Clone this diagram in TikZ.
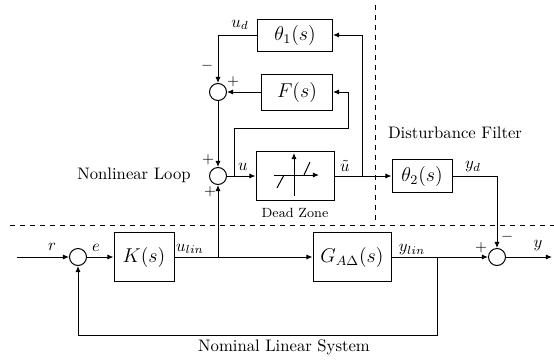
\documentclass[tikz,border=0pt]{standalone}
\usepackage{amsmath}
\usepackage{amssymb}
\usetikzlibrary{arrows.meta,positioning,calc}

\begin{document}
\begin{tikzpicture}[x=0.6pt,y=-0.6pt,
    blk/.style={draw, semithick, rectangle, inner sep=0pt, font=\large},
    sumnode/.style={draw, semithick, circle, minimum size=10.2pt, inner sep=0pt},
    sgn/.style={font=\small, inner sep=0pt},
    sig/.style={inner sep=0pt},
    arr/.style={semithick, -{Latex[length=1.3mm,width=1.1mm]}}]
    \useasboundingbox (0,0) rectangle (554,363);

    % region borders
    \draw[dashed] (10,225) -- (554,225);
    \draw[dashed] (375,5) -- (375,225);

    % nominal linear system
    \coordinate (rin) at (17,257);
    \node[sumnode] (s0) at (78,257) {};
    \node[blk, minimum width=36pt, minimum height=29.4pt] (K) at (144,257) {$K(s)$};
    \node[blk, minimum width=46.8pt, minimum height=29.4pt] (G) at (352,257) {$G_{A\Delta}(s)$};
    \node[sumnode] (s3) at (497,257) {};
    \coordinate (yout) at (552,257);

    % nonlinear loop
    \node[sumnode] (s1) at (218,92) {};
    \node[sumnode] (s2) at (218,176) {};
    \node[blk, minimum width=45pt, minimum height=19.2pt] (th1) at (295,35) {$\theta_1(s)$};
    \node[blk, minimum width=42.6pt, minimum height=21.6pt] (F) at (297,92) {$F(s)$};
    \node[blk, minimum width=46.8pt, minimum height=29.4pt] (dz) at (295,176) {};

    % disturbance filter
    \node[blk, minimum width=36pt, minimum height=19.8pt] (th2) at (422,176) {$\theta_2(s)$};

    % dead zone symbol
    \draw[arr] ($(dz.center)+(-1,20)$) -- ($(dz.center)+(-1,-23)$);
    \draw[arr] ($(dz.center)+(-21,-1)$) -- ($(dz.center)+(24,-1)$);
    \draw[semithick] ($(dz.center)+(-18,12)$) -- ($(dz.center)+(-11,-1)$);
    \draw[semithick] ($(dz.center)+(9,-1)$) -- ($(dz.center)+(15,-14)$);

    % branch points
    \coordinate (j1) at (218,257);
    \coordinate (j2) at (437,257);
    \coordinate (fb0) at (437,335);
    \coordinate (j3) at (234,176);
    \coordinate (j4) at (362,176);
    \coordinate (fbk) at (348,128);

    % connectors, linear part
    \draw[arr] (rin) -- (s0.west);
    \draw[arr] (s0.east) -- (K.west);
    \draw[arr] (K.east) -- (G.west);
    \draw[arr] (G.east) -- (s3.west);
    \draw[arr] (s3.east) -- (yout);
    \draw[arr] (j2) -- (fb0) -| (s0.south);

    % connectors, nonlinear part
    \draw[arr] (j1) -- (s2.south);
    \draw[arr] (s2.east) -- (dz.west);
    \draw[arr] (dz.east) -- (th2.west);
    \draw[arr] (th2.east) -| (s3.north);
    \draw[arr] (j4) |- (th1.east);
    \draw[arr] (j3) |- (fbk) |- (F.east);
    \draw[arr] (F.west) -- (s1.east);
    \draw[arr] (th1.west) -| (s1.north);
    \draw[arr] (s1.south) -- (s2.north);

    % signal labels
    \node[sig] (lr) at (52,247) {$r$};
    \node[sig] (le) at (96,248) {$e$};
    \node[sig] (lulin) at (190,249) {$u_{lin}$};
    \node[sig] (lylin) at (412,250) {$y_{lin}$};
    \node[sig] (ly) at (538,246) {$y$};
    \node[sig] (lu) at (243,167) {$u$};
    \node[sig] (lut) at (345,166) {$\tilde{u}$};
    \node[sig] (lyd) at (473,167) {$y_d$};
    \node[sig] (lud) at (240,25) {$u_d$};

    % signs at the summing points
    \node[sgn] (m1) at (207,66) {$-$};
    \node[sgn] (p1) at (233,82) {$+$};
    \node[sgn] (p2) at (208,160) {$+$};
    \node[sgn] (p3) at (210,192) {$+$};
    \node[sgn] (p4) at (481,248) {$+$};
    \node[sgn] (m4) at (507,237) {$-$};

    % region titles
    \node (tnl) at (134,175) {Nonlinear Loop};
    \node (tdf) at (455,133) {Disturbance Filter};
    \node (tnom) at (284,347) {Nominal Linear System};
    \node[font=\footnotesize] (tdz) at (295,213) {Dead Zone};
\end{tikzpicture}
\end{document}
